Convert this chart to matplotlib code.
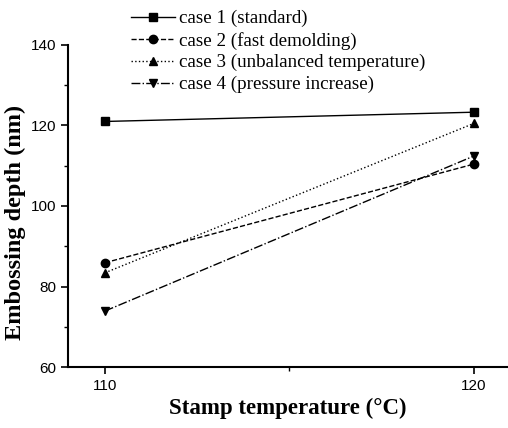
import matplotlib
matplotlib.use("Agg")
import matplotlib.pyplot as plt
from matplotlib.ticker import MultipleLocator

temps = [110, 120]
case1 = [121.0, 123.3]
case2 = [85.9, 110.4]
case3 = [83.4, 120.5]
case4 = [73.9, 112.4]
labels = ["case 1 (standard)", "case 2 (fast demolding)",
          "case 3 (unbalanced temperature)", "case 4 (pressure increase)"]

fig = plt.figure(figsize=(5.08, 4.28), dpi=100)
ax = fig.add_axes([0.1339, 0.1425, 0.864, 0.7524])

styles = [("-", "s"), ("--", "o"), (":", "^"), ("-.", "v")]
handles = []
for vals, (ls, mk), lab in zip([case1, case2, case3, case4], styles, labels):
    h, = ax.plot(temps, vals, linestyle=ls, marker=mk, color="black",
                 markersize=6, linewidth=1.0, label=lab)
    handles.append(h)

ax.set_xlim(109.0, 120.9)
ax.set_ylim(60, 140)
ax.set_xticks([110, 120])
ax.set_yticks([60, 80, 100, 120, 140])
ax.xaxis.set_minor_locator(MultipleLocator(5))
ax.yaxis.set_minor_locator(MultipleLocator(10))
for s in ["top", "right"]:
    ax.spines[s].set_visible(False)
for s in ["left", "bottom"]:
    ax.spines[s].set_linewidth(1.5)
ax.tick_params(which="major", direction="out", length=5, width=1.2)
ax.tick_params(which="minor", direction="out", length=3, width=1.0)
for t in ax.get_xticklabels() + ax.get_yticklabels():
    t.set_fontfamily("Liberation Sans")
    t.set_fontsize(11)

ax.set_xlabel("Stamp temperature (°C)", fontfamily="Liberation Serif",
              fontweight="bold", fontsize=16.5)
ax.set_ylabel("Embossing depth (nm)", fontfamily="Liberation Serif",
              fontweight="bold", fontsize=17.5)
ax.xaxis.set_label_coords(0.5, -0.127)
ax.yaxis.set_label_coords(-0.12, 0.45)
ax.xaxis.label.set_va("center")
ax.yaxis.label.set_va("center")

fig.legend(handles=handles, loc="upper left", bbox_to_anchor=(0.255, 0.981),
           frameon=False, prop={"family": "Liberation Serif", "size": 13.7},
           handlelength=2.3, handletextpad=0.2, labelspacing=0.23,
           borderaxespad=0.0, borderpad=0.1)

fig.savefig("out.png", dpi=100)
